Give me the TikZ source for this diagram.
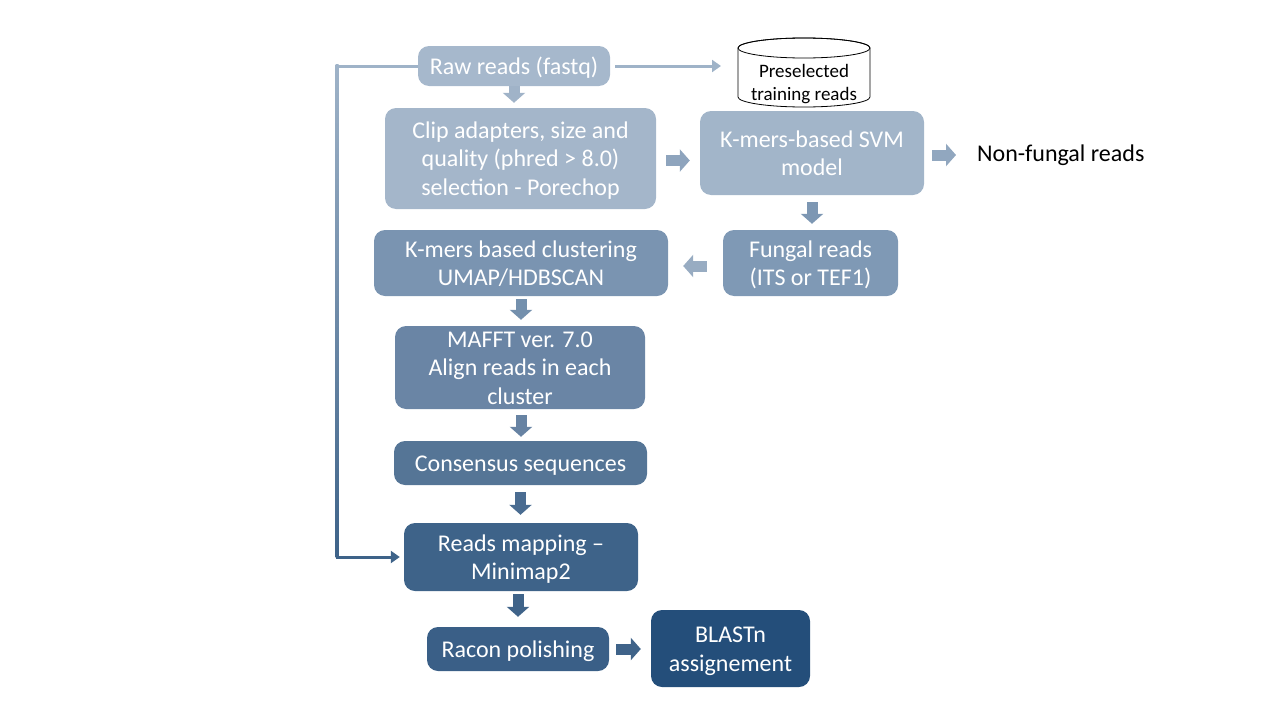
\documentclass[tikz,border=0pt]{standalone}
\usepackage{fontspec}
\setmainfont{Carlito}
\usetikzlibrary{arrows.meta,calc}
\newcommand{\topstrt}{\rule{0pt}{1em}}
\newcommand{\botstrt}{\rule[-0.3em]{0pt}{0.3em}}
\definecolor{cRaw}{HTML}{A6B8CC}
\definecolor{cClip}{HTML}{A4B6CA}
\definecolor{cSvm}{HTML}{A2B5C9}
\definecolor{cFun}{HTML}{7F99B5}
\definecolor{cClu}{HTML}{7A94B1}
\definecolor{cMaf}{HTML}{6A85A5}
\definecolor{cCon}{HTML}{557596}
\definecolor{cMap}{HTML}{3E6389}
\definecolor{cRac}{HTML}{3A5F87}
\definecolor{cBla}{HTML}{244E7A}
\definecolor{aLight}{HTML}{9FB3C8}
\definecolor{aDark}{HTML}{3E6389}
\definecolor{a1}{HTML}{A0B3C8}
\definecolor{a2}{HTML}{8EA4BD}
\definecolor{a3}{HTML}{91A7BF}
\definecolor{a4}{HTML}{7D97B3}
\definecolor{a5}{HTML}{98ACC2}
\definecolor{a6}{HTML}{7490AD}
\definecolor{a7}{HTML}{6783A3}
\definecolor{a8}{HTML}{4A6C91}
\definecolor{a9}{HTML}{3F6389}
\begin{document}
\begin{tikzpicture}[x=1pt,y=-1pt,
  box/.style={rounded corners=11pt, text=white, align=center, inner sep=0pt,
    font=\fontsize{24}{28.8}\selectfont},
  barrow/.style={line width=11pt, -{Triangle[width=22pt,length=10pt]}},
  conn/.style={line width=3pt, -{Triangle[width=12pt,length=9pt]}}]
\useasboundingbox (0,0) rectangle (1280,720);

% boxes
\node[box, fill=cRaw, minimum width=192pt, minimum height=40pt] (raw) at (514,66)
  {\topstrt Raw reads (fastq)\botstrt};
\node[box, fill=cClip, minimum width=271pt, minimum height=101pt] (clip) at (520.5,158.5)
  {\topstrt Clip adapters, size and\\quality (phred > 8.0)\\selection - Porechop\botstrt};
\node[box, fill=cSvm, minimum width=224pt, minimum height=84pt] (svm) at (812,153)
  {\topstrt K-mers-based SVM\\model\botstrt};
\node[anchor=west, inner sep=0pt, font=\fontsize{24}{28.8}\selectfont] (nonf) at (977,153)
  {\topstrt Non-fungal reads\botstrt};
\node[box, fill=cFun, minimum width=175pt, minimum height=66pt] (fun) at (810.5,263)
  {\topstrt Fungal reads\\(ITS or TEF1)\botstrt};
\node[box, fill=cClu, minimum width=294pt, minimum height=66pt] (clu) at (521,263)
  {\topstrt K-mers based clustering\\UMAP/HDBSCAN\botstrt};
\node[box, fill=cMaf, minimum width=250pt, minimum height=83pt] (maf) at (520,367.5)
  {\rule{0pt}{21.1pt}MAFFT ver. 7.0\\Align reads in each\\cluster\rule[-4.3pt]{0pt}{4.3pt}};
\node[box, fill=cCon, minimum width=253pt, minimum height=44pt] (con) at (520.5,463)
  {\topstrt Consensus sequences\botstrt};
\node[box, fill=cMap, minimum width=234pt, minimum height=68pt] (map) at (521,557)
  {\topstrt Reads mapping --\\Minimap2\botstrt};
\node[box, fill=cRac, minimum width=182pt, minimum height=44pt] (rac) at (518,649)
  {\topstrt Racon polishing\botstrt};
\node[box, fill=cBla, minimum width=159pt, minimum height=77pt] (bla) at (730.5,648.5)
  {\topstrt BLASTn\\assignement\botstrt};

% cylinder
\draw[fill=white, line width=0.8pt] (738,48) -- (738,97)
  arc[start angle=180, end angle=0, x radius=66, y radius=10] -- (870,48)
  arc[start angle=0, end angle=-180, x radius=66, y radius=10] -- cycle;
\draw[line width=0.8pt] (804,48) ellipse [x radius=66, y radius=10];
\node[align=center, inner sep=0pt, font=\fontsize{19}{23}\selectfont] (cyl) at (804,82.5)
  {\topstrt Preselected\\training reads\botstrt};
\coordinate (cylin) at (721,66);

% thin connectors
\draw[conn, aLight] ($(raw.east)+(5,0)$) -- (cylin);
\coordinate (lt) at (337,66);
\coordinate (lb) at (337,557);
\draw[line width=3pt, aLight] (raw.west) -- ($(lt)+(-1.5,0)$);
\shade[top color=aLight, bottom color=aDark] ($(lt)+(-1.5,-1.5)$) rectangle ($(lb)+(1.5,0)$);
\draw[conn, aDark] ($(lb)+(-1.5,0)$) -- ($(map.west)+(-4,0)$);

% block arrows
\draw[barrow, a1] (raw.south) -- ($(raw.south |- clip.north)+(0,-5)$);
\draw[barrow, a2] ($(clip.east)+(10,2)$) -- ($(svm.west |- clip.east)+(-10,2)$);
\draw[barrow, a3] ($(svm.east)+(8,2)$) -- ($(nonf.west)+(-21,2)$);
\draw[barrow, a4] ($(svm.south)+(0,7)$) -- ($(svm.south |- fun.north)+(0,-6)$);
\draw[barrow, a5] ($(fun.west)+(-16,3)$) -- ($(clu.east |- fun.west)+(15,3)$);
\draw[barrow, a6] ($(clu.south)+(0,3)$) -- ($(clu.south |- maf.north)+(0,-6)$);
\draw[barrow, a7] ($(maf.south)+(1,6)$) -- ($(maf.south |- con.north)+(1,-4)$);
\draw[barrow, a8] ($(con.south)+(0,7)$) -- ($(con.south |- map.north)+(0,-8)$);
\draw[barrow, a9] ($(map.south)+(-3,3)$) -- ($(map.south |- rac.north)+(-3,-10)$);
\draw[barrow, a9] ($(rac.east)+(7,0)$) -- ($(bla.west |- rac.east)+(-10,0)$);
\end{tikzpicture}
\end{document}
